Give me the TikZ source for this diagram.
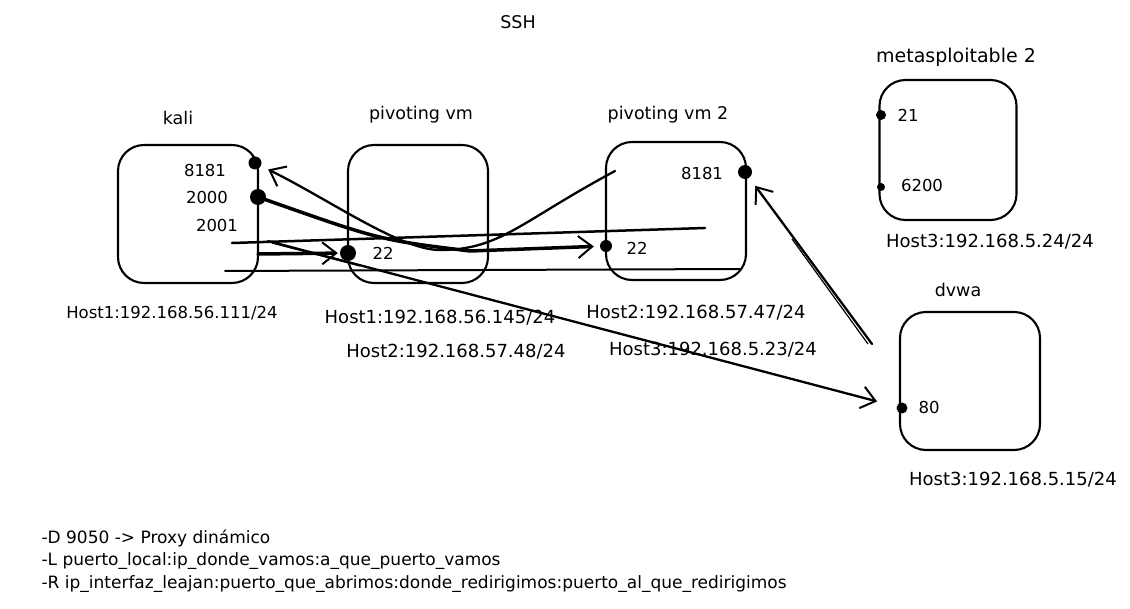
\documentclass[tikz,border=0pt]{standalone}
\usepackage{fontspec}
\setmainfont{DejaVu Sans}
\usetikzlibrary{arrows.meta}
\tikzset{
  vmbox/.style={draw,line width=2.1pt,rounded corners=26pt,minimum width=140pt,minimum height=138pt,inner sep=0pt},
  titlelbl/.style={font=\fontsize{17.5}{20}\selectfont},
  hostlbl/.style={font=\fontsize{18}{22}\selectfont},
  portlbl/.style={font=\fontsize{16.5}{19}\selectfont},
  legendlbl/.style={font=\fontsize{17}{20}\selectfont,anchor=west},
  portdot/.style={circle,fill=black,inner sep=0pt,minimum size=#1},
  portdot/.default=12pt,
  conn/.style={line width=2.3pt,line cap=round},
  heavy/.style={line width=3.5pt,line cap=round},
  midline/.style={line width=2.5pt,line cap=round},
  thinline/.style={line width=2pt,line cap=round},
  tip/.style={-{Straight Barb[length=14pt,width=22pt,line width=2pt]}}
}
\begin{document}
\begin{tikzpicture}[x=1pt,y=-1pt]
\useasboundingbox (0,0) rectangle (1130,609);
\fill[white] (0,0) rectangle (1130,609);

% titles
\node[titlelbl] (ssh) at (518,22) {SSH};
\node[titlelbl] (tkali) at (178,118) {kali};
\node[titlelbl] (tpvm) at (421,115) {pivoting vm};
\node[titlelbl] (tpvm2) at (668,115) {pivoting vm 2};
\node[titlelbl, font=\fontsize{19}{22}\selectfont] (tmeta) at (956,57) {metasploitable 2};
\node[titlelbl] (tdvwa) at (958,290) {dvwa};

% boxes
\node[vmbox] (kali) at (188,214) {};
\node[vmbox] (pvm) at (418,214) {};
\node[vmbox] (pvm2) at (676,211) {};
\node[vmbox, minimum width=137pt, minimum height=140pt] (meta) at (948,150) {};
\node[vmbox] (dvwa) at (970,381) {};

% ports
\node[portlbl] (k8181) at (205,170) {8181};
\node[portlbl] (k2000) at (207,197) {2000};
\node[portlbl] (k2001) at (217,225) {2001};
\node[portdot=13pt] (kd8181) at (255,163) {};
\node[portdot=16pt] (kd2000) at (258,197) {};

\node[portlbl] (p22) at (383,253) {22};
\node[portdot=16pt] (pd22) at (348,253) {};

\node[portlbl] (q8181) at (702,173) {8181};
\node[portlbl] (q22) at (637,248) {22};
\node[portdot=14pt] (qd8181) at (745,172) {};
\node[portdot=12pt] (qd22) at (606,246) {};

\node[portlbl] (m21) at (908,115) {21};
\node[portlbl] (m6200) at (922,185) {6200};
\node[portdot=10pt] (md21) at (881,115) {};
\node[portdot=8pt] (md6200) at (881,187) {};

\node[portlbl] (d80) at (929,407) {80};
\node[portdot=11pt] (dd80) at (902,408) {};

% host labels
\node[hostlbl, font=\fontsize{16.5}{22}\selectfont] (h1) at (172,313) {Host1:192.168.56.111/24};
\node[hostlbl] (h2) at (440,318) {Host1:192.168.56.145/24};
\node[hostlbl] (h3) at (456,352) {Host2:192.168.57.48/24};
\node[hostlbl] (h4) at (696,313) {Host2:192.168.57.47/24};
\node[hostlbl] (h5) at (713,350) {Host3:192.168.5.23/24};
\node[hostlbl] (h6) at (990,242) {Host3:192.168.5.24/24};
\node[hostlbl] (h7) at (1013,480) {Host3:192.168.5.15/24};

% legend
\node[legendlbl] (l1) at (38,538) {-D 9050 -> Proxy dinámico};
\node[legendlbl] (l2) at (38,561) {-L puerto\_local:ip\_donde\_vamos:a\_que\_puerto\_vamos};
\node[legendlbl] (l3) at (38,584) {-R ip\_interfaz\_leajan:puerto\_que\_abrimos:donde\_redirigimos:puerto\_al\_que\_redirigimos};

% free ends
\coordinate (c1a) at (615,171);
\coordinate (c3a) at (232,243);
\coordinate (c3b) at (705,228);
\coordinate (c4a) at (258,254);
\coordinate (c5a) at (268,241);
\coordinate (c5b) at (272,243);
\coordinate (c5c) at (360,266);
\coordinate (c6a) at (225,271);
\coordinate (c6b) at (740,269);
\coordinate (c7a) at (872,344);
\coordinate (c7b) at (868,344);
\coordinate (c7c) at (792,239);

% connectors
\draw[conn,tip,shorten >=8pt] (c1a) .. controls (520,222) and (500,250) .. (440,250)
   .. controls (400,250) and (330,200) .. (kd8181);
\draw[heavy,tip,shorten >=6pt] (kd2000) .. controls (380,240) .. (470,251) -- (qd22);
\draw[midline] (c3a) -- (c3b);
\draw[heavy,tip,shorten >=2pt] (c4a) -- (pd22);
\draw[conn,tip,shorten >=20pt] (c5a) -- (dd80);
\draw[line width=1.2pt] (c5b) -- (c5c);
\draw[thinline] (c6a) -- (c6b);
\draw[conn,tip,shorten >=10pt] (c7a) -- (qd8181);
\draw[line width=1.2pt] (c7b) -- (c7c);
\end{tikzpicture}
\end{document}
